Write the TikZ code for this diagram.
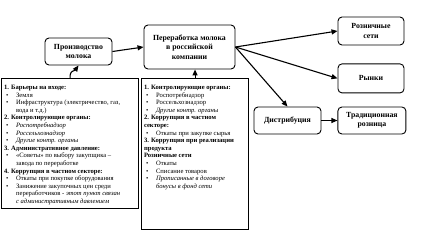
\documentclass[tikz,border=0pt]{standalone}
\usepackage{fontspec}
\setmainfont{Liberation Serif}
\usetikzlibrary{arrows.meta, positioning}

\newcommand{\hd}[1]{\par\noindent\textbf{#1}}
\newcommand{\bul}[1]{\par\hangindent=12pt\hangafter=1\noindent\makebox[12pt][l]{\hspace{2pt}\textbullet}#1}

\begin{document}
\begin{tikzpicture}[
    x=1pt, y=-1pt,
    block/.style={rectangle, rounded corners=4pt, draw, line width=0.9pt, minimum width=66pt, minimum height=27pt, align=center, font=\fontsize{7.8}{9.5}\selectfont\bfseries},
    listbox/.style={rectangle, draw, line width=1.1pt, inner xsep=2.5pt, inner ysep=0pt, anchor=north west, font=\fontsize{6.6}{7.6}\selectfont},
    arr/.style={-{Triangle[length=6pt, width=5pt]}, line width=1.1pt},
]
    \useasboundingbox (0,0) rectangle (437,236);

    \node[block, minimum width=67pt] (milk) at (78.5,51.5) {Производство\\молока};
    \node[block, minimum width=91pt, minimum height=44pt] (plant) at (189.5,47) {Переработка молока\\в российской\\компании};
    \node[block, minimum height=28pt] (retail) at (371,31) {Розничные\\сети};
    \node[block, below=18pt of retail, minimum height=29pt] (market) {Рынки};
    \node[block, minimum width=67pt] (distrib) at (287.5,120.5) {Дистрибуция};
    \node[block, right=16pt of distrib, minimum width=68pt] (trad) {Традиционная\\розница};

    % Barriers at the farm
    \node[listbox] (barriers) at (1,78) {\parbox[t][130pt][t]{132pt}{\raggedright\vspace*{6.5pt}%
        \hd{1. Барьеры на входе:}
        \bul{Земля}
        \bul{Инфраструктура (электричество, газ,\newline вода и т.д.)}
        \hd{2. Контролирующие органы:}
        \bul{\textit{Роспотребнадзор}}
        \bul{\textit{Россельхознадзор}}
        \bul{\textit{Другие контр. органы}}
        \hd{3. Административное давление:}
        \bul{«Советы» по выбору закупщика –\newline завода по переработке}
        \hd{4. Коррупция в частном секторе:}
        \bul{Откаты при покупке оборудования}
        \bul{Занижение закупочных цен среди\newline переработчиков - \textit{этот пункт связан\newline с административным давлением}}}};

    % Barriers at the plant
    \node[listbox] (sector) at (141,78) {\parbox[t][151pt][t]{102pt}{\raggedright\vspace*{6.5pt}%
        \hd{1. Контролирующие органы:}
        \bul{Роспотребнадзор}
        \bul{Россельхознадзор}
        \bul{\textit{Другие контр. органы}}
        \hd{2. Коррупция в частном\newline секторе:}
        \bul{Откаты при закупке сырья}
        \hd{3. Коррупция при реализации\newline продукта}
        \hd{Розничные сети}
        \bul{Откаты}
        \bul{Списание товаров}
        \bul{\textit{Прописанные в договоре\newline бонусы в фонд сети}}}};

    \draw[arr] (milk.east) -- (plant.west);
    \draw[arr] (barriers.north) .. controls +(0,-9) and +(-5,7) .. (milk.south);
    \draw[arr] (sector.north) -- (sector.north |- plant.south);
    \draw[arr] (plant.east) -- (retail.west);
    \draw[arr] (plant.east) -- (market.west);
    \draw[arr] (plant.east) -- (distrib.north);
    \draw[arr] (distrib) -- (trad);
\end{tikzpicture}
\end{document}
